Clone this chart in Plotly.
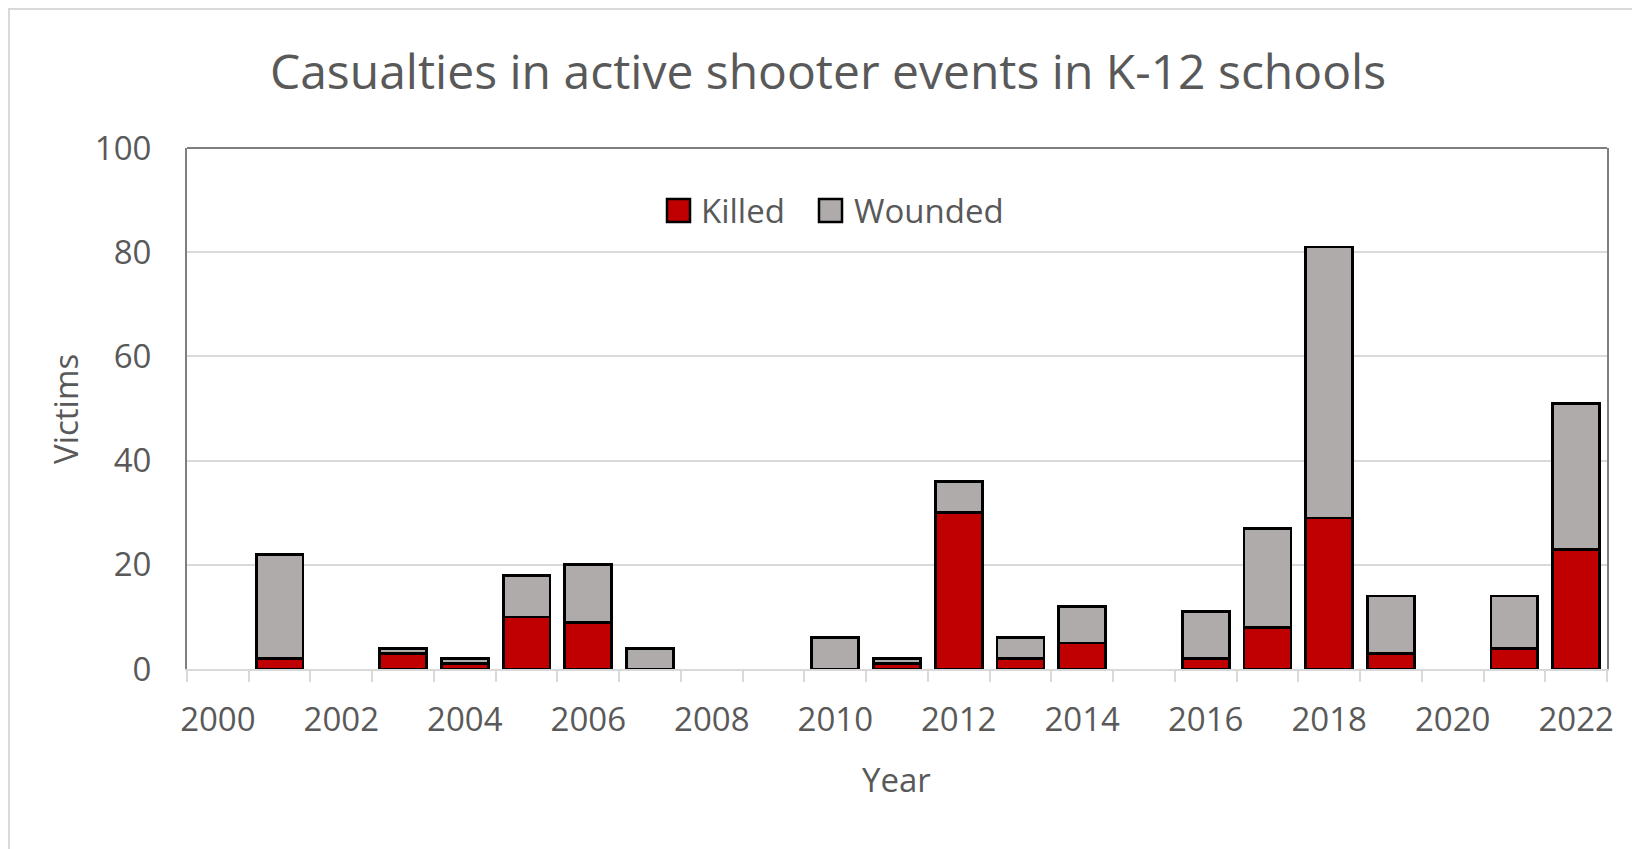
import plotly.graph_objects as go

years = list(range(2000, 2023))
killed = [0, 2, 0, 3, 1, 10, 9, 0, 0, 0, 0, 1, 30, 2, 5, 0, 2, 8, 29, 3, 0, 4, 23]
wounded = [0, 20, 0, 1, 1, 8, 11, 4, 0, 0, 6, 1, 6, 4, 7, 0, 9, 19, 52, 11, 0, 10, 28]
tick_labels = [str(y) for y in years if y % 2 == 0]
series = [("Killed", killed, "#C00000"), ("Wounded", wounded, "#AFABAB")]

TXT = "#595959"
FONT = "Open Sans"
OFF = 8  # default page body margin
W, H = 1640 - OFF, 849 - OFF
L, R, T, B = 187 - OFF, 33, 148 - OFF, 180
pw, ph = W - L - R, H - T - B


def px(x):  # page x -> paper
    return (x - OFF - L) / pw


def py(y):  # page y -> paper
    return (H - B - (y - OFF)) / ph


fig = go.Figure()
for name, vals, col in series:
    fig.add_trace(go.Bar(x=years, y=[v if v else None for v in vals], name=name, width=0.76,
                         marker=dict(color=col, line=dict(color="black", width=2.8)),
                         showlegend=False))

fig.update_layout(
    width=W, height=H, barmode="stack",
    margin=dict(l=L, r=R, t=T, b=B, autoexpand=False),
    paper_bgcolor="white", plot_bgcolor="white",
    font=dict(family=FONT, color=TXT),
    title=dict(text="Casualties in active shooter events in K-12 schools",
               x=(828 - OFF) / W, xanchor="center", y=1 - (72 - OFF) / H, yanchor="middle",
               font=dict(size=48, color=TXT, family=FONT)),
    showlegend=False,
)
fig.update_xaxes(
    range=[years[0] - 0.5, years[-1] + 0.5], automargin=False,
    tickmode="array", tickvals=[int(t) for t in tick_labels], ticktext=tick_labels,
    ticks="", tickfont=dict(size=33, color=TXT), ticklabelstandoff=20,
    showgrid=False, zeroline=False,
    showline=True, linecolor="#D9D9D9", linewidth=2,
    minor=dict(ticks="outside", tickmode="array",
               tickvals=[y - 0.5 for y in years] + [years[-1] + 0.5],
               ticklen=11, tickcolor="#D9D9D9", tickwidth=2, showgrid=False),
)
fig.update_yaxes(
    range=[0, 100], tickvals=[0, 20, 40, 60, 80, 100], automargin=False,
    tickfont=dict(size=33, color=TXT), ticklabelstandoff=27,
    showgrid=True, gridcolor="#D9D9D9", gridwidth=2, zeroline=False,
    showline=True, linecolor="#7F7F7F", linewidth=2, mirror=True,
)
# axis titles
fig.add_annotation(text="Year", xref="paper", yref="paper", x=px(896), y=py(779),
                   xanchor="center", yanchor="middle", showarrow=False,
                   font=dict(size=33, color=TXT))
fig.add_annotation(text="Victims", xref="paper", yref="paper", x=px(65), y=py(409),
                   xanchor="center", yanchor="middle", showarrow=False, textangle=-90,
                   font=dict(size=33, color=TXT))
# top border of plot area
fig.add_shape(type="line", xref="paper", yref="paper", x0=0, x1=1, y0=1, y1=1,
              line=dict(color="#7F7F7F", width=2))
# legend drawn as keys + labels
legend_pos = [(667, 699), (819, 852)]
for (name, _, col), (sx, tx) in zip(series, legend_pos):
    fig.add_shape(type="rect", xref="paper", yref="paper",
                  x0=px(sx), x1=px(sx + 23), y0=py(222), y1=py(199),
                  fillcolor=col, line=dict(color="black", width=2.5))
    fig.add_annotation(text=name, xref="paper", yref="paper", x=px(tx), y=py(210),
                       xanchor="left", yanchor="middle", showarrow=False,
                       font=dict(size=33, color=TXT))
# chart area border
fig.add_shape(type="rect", xref="paper", yref="paper",
              x0=px(OFF + 1), x1=px(1660), y0=py(870), y1=py(OFF + 1),
              line=dict(color="#D9D9D9", width=2), layer="below")

fig.write_html("out.html")
